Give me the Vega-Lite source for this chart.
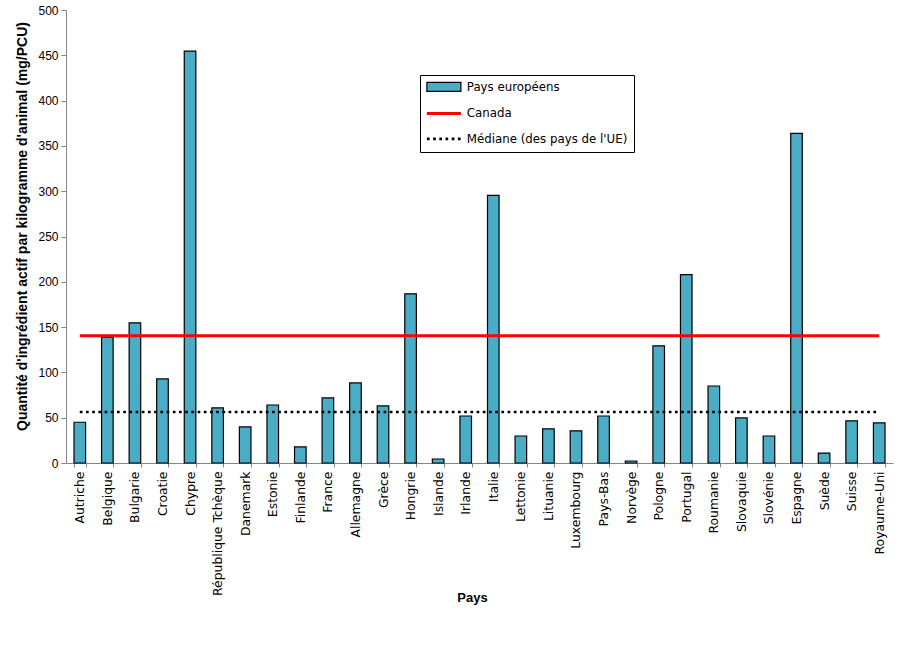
{
  "$schema": "https://vega.github.io/schema/vega-lite/v6.json",
  "autosize": "none",
  "width": 827,
  "height": 453,
  "padding": {"left": 66, "top": 10, "right": 8, "bottom": 191},
  "background": "white",
  "config": {
    "view": {"stroke": null},
    "axis": {"grid": false, "domainColor": "#868686", "tickColor": "#868686", "labelColor": "black", "titleColor": "black"}
  },
  "datasets": {
    "pays": [
      {"pays": "Autriche", "valeur": 45, "serie": "Pays européens"},
      {"pays": "Belgique", "valeur": 139, "serie": "Pays européens"},
      {"pays": "Bulgarie", "valeur": 154.7, "serie": "Pays européens"},
      {"pays": "Croatie", "valeur": 92.8, "serie": "Pays européens"},
      {"pays": "Chypre", "valeur": 454.5, "serie": "Pays européens"},
      {"pays": "République Tchèque", "valeur": 60.8, "serie": "Pays européens"},
      {"pays": "Danemark", "valeur": 39.8, "serie": "Pays européens"},
      {"pays": "Estonie", "valeur": 64, "serie": "Pays européens"},
      {"pays": "Finlande", "valeur": 17.7, "serie": "Pays européens"},
      {"pays": "France", "valeur": 71.8, "serie": "Pays européens"},
      {"pays": "Allemagne", "valeur": 88.4, "serie": "Pays européens"},
      {"pays": "Grèce", "valeur": 63, "serie": "Pays européens"},
      {"pays": "Hongrie", "valeur": 186.7, "serie": "Pays européens"},
      {"pays": "Islande", "valeur": 4.4, "serie": "Pays européens"},
      {"pays": "Irlande", "valeur": 51.9, "serie": "Pays européens"},
      {"pays": "Italie", "valeur": 295.4, "serie": "Pays européens"},
      {"pays": "Lettonie", "valeur": 29.8, "serie": "Pays européens"},
      {"pays": "Lituanie", "valeur": 37.6, "serie": "Pays européens"},
      {"pays": "Luxembourg", "valeur": 35.4, "serie": "Pays européens"},
      {"pays": "Pays-Bas", "valeur": 51.9, "serie": "Pays européens"},
      {"pays": "Norvège", "valeur": 2.2, "serie": "Pays européens"},
      {"pays": "Pologne", "valeur": 129.3, "serie": "Pays européens"},
      {"pays": "Portugal", "valeur": 208, "serie": "Pays européens"},
      {"pays": "Roumanie", "valeur": 85, "serie": "Pays européens"},
      {"pays": "Slovaquie", "valeur": 49.7, "serie": "Pays européens"},
      {"pays": "Slovénie", "valeur": 29.8, "serie": "Pays européens"},
      {"pays": "Espagne", "valeur": 363.9, "serie": "Pays européens"},
      {"pays": "Suède", "valeur": 11, "serie": "Pays européens"},
      {"pays": "Suisse", "valeur": 46.4, "serie": "Pays européens"},
      {"pays": "Royaume-Uni", "valeur": 44.2, "serie": "Pays européens"}
    ],
    "lignes": [
      {"serie": "Canada", "valeur": 140.5, "debut": "Autriche", "fin": "Royaume-Uni"},
      {"serie": "Médiane (des pays de l'UE)", "valeur": 56.3, "debut": "Autriche", "fin": "Royaume-Uni"}
    ]
  },
  "layer": [
    {
      "data": {"name": "pays"},
      "mark": {"type": "bar"},
      "encoding": {
        "x": {
          "field": "pays", "type": "nominal", "title": "Pays",
          "scale": {
            "domain": ["Autriche","Belgique","Bulgarie","Croatie","Chypre","République Tchèque","Danemark","Estonie","Finlande","France","Allemagne","Grèce","Hongrie","Islande","Irlande","Italie","Lettonie","Lituanie","Luxembourg","Pays-Bas","Norvège","Pologne","Portugal","Roumanie","Slovaquie","Slovénie","Espagne","Suède","Suisse","Royaume-Uni"],
            "paddingInner": 0.58, "paddingOuter": 0.29
          },
          "axis": {
            "labelAngle": -90, "labelFont": "DejaVu Sans", "labelFontSize": 12.4, "labelPadding": 4,
            "tickBand": "extent", "tickSize": 4, "labelOverlap": false,
            "titleFont": "Liberation Sans", "titleFontWeight": "bold", "titleFontSize": 13,
            "titleY": 138, "titleX": 406, "titleAlign": "center", "titleBaseline": "alphabetic"
          }
        },
        "y": {
          "field": "valeur", "type": "quantitative",
          "title": "Quantité d'ingrédient actif par kilogramme d'animal (mg/PCU)",
          "scale": {"domain": [0, 500], "nice": false},
          "axis": {
            "values": [0,50,100,150,200,250,300,350,400,450,500],
            "labelFont": "Liberation Sans", "labelFontSize": 12, "tickSize": 5, "labelPadding": 3,
            "titleFont": "Liberation Sans", "titleFontWeight": "bold", "titleFontSize": 14,
            "titleAngle": -90, "titleX": -44, "titleY": 216, "titleAlign": "center", "titleBaseline": "middle"
          }
        },
        "color": {
          "field": "serie", "type": "nominal",
          "scale": {"domain": ["Pays européens", "Canada", "Médiane (des pays de l'UE)"], "range": ["#4BACC6", "#FF0000", "#000000"]},
          "legend": {
            "title": null, "orient": "none", "legendX": 354, "legendY": 65, "direction": "vertical",
            "strokeColor": "black", "fillColor": "white", "padding": 6, "rowPadding": 12.5,
            "labelFont": "DejaVu Sans", "labelFontSize": 11.8, "labelColor": "black", "labelOffset": 29, "labelLimit": 400,
            "symbolSize": 100, "symbolOpacity": 1,
            "symbolType": {"expr": "datum.label === 'Pays européens' ? 'M-1,-0.9H5.8V0.9H-1Z' : 'M-1,0H5.8'"},
            "symbolStrokeColor": {"expr": "datum.label === 'Canada' ? '#FF0000' : '#000000'"},
            "symbolStrokeWidth": {"expr": "datum.label === 'Pays européens' ? 1.2 : (datum.label === 'Canada' ? 3 : 2.7)"},
            "symbolDash": {"expr": "(datum.label === 'Pays européens' || datum.label === 'Canada') ? [] : [2.7, 3.5]"}
          }
        }
      }
    },
    {
      "data": {"name": "pays"},
      "mark": {"type": "bar", "fillOpacity": 0, "stroke": "black", "strokeWidth": 1.2},
      "encoding": {
        "x": {"field": "pays", "type": "nominal", "title": "Pays"},
        "y": {"field": "valeur", "type": "quantitative"}
      }
    },
    {
      "data": {"name": "lignes"},
      "transform": [{"filter": "datum.serie === 'Canada'"}],
      "mark": {"type": "rule", "strokeWidth": 3, "color": "#FF0000"},
      "encoding": {
        "x": {"field": "debut", "type": "nominal", "title": "Pays"},
        "x2": {"field": "fin"},
        "y": {"field": "valeur", "type": "quantitative"}
      }
    },
    {
      "data": {"name": "lignes"},
      "transform": [{"filter": "datum.serie !== 'Canada'"}],
      "mark": {"type": "rule", "strokeWidth": 2.7, "strokeDash": [2.7, 3.5], "color": "#000000"},
      "encoding": {
        "x": {"field": "debut", "type": "nominal", "title": "Pays"},
        "x2": {"field": "fin"},
        "y": {"field": "valeur", "type": "quantitative"}
      }
    }
  ]
}
